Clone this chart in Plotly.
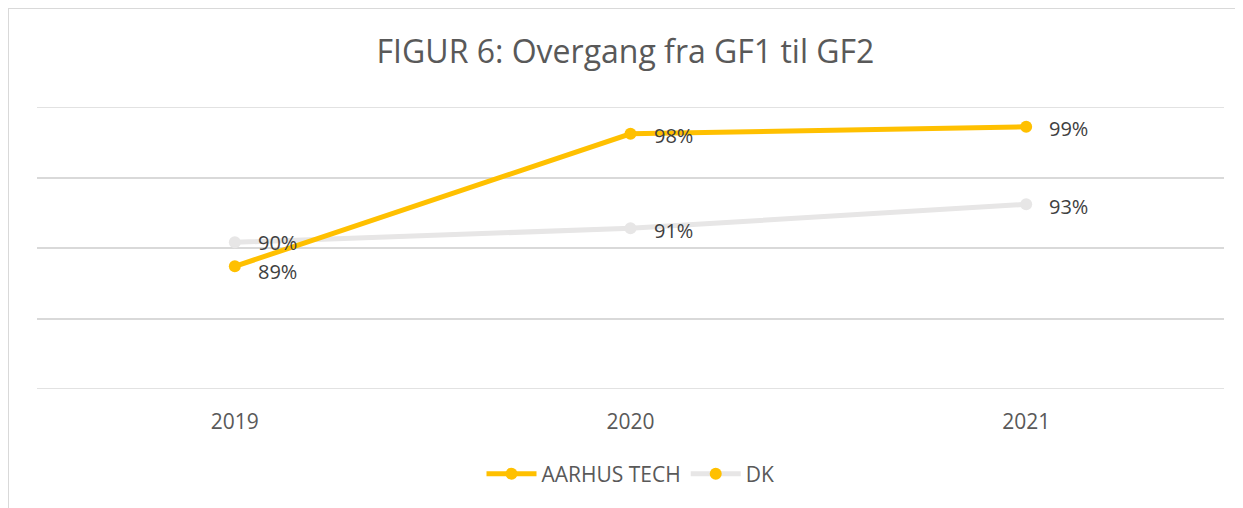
import plotly.graph_objects as go

years = ["2019", "2020", "2021"]
aarhus_tech = [88.7, 98.1, 98.6]
dk = [90.4, 91.4, 93.1]
aarhus_labels = ["89%", "98%", "99%"]
dk_labels = ["90%", "91%", "93%"]

YELLOW = "#FFC000"
GRAY = "#E7E6E6"
TEXT = "#404040"
FONT = "Open Sans"

W, H = 1235, 500
L, T, R, B = 29, 99, 19, 119
PW, PH = W - L - R, H - T - B

fig = go.Figure()

fig.add_trace(go.Scatter(x=years, y=dk, mode="lines+markers", showlegend=False,
                         line=dict(color=GRAY, width=5), marker=dict(color=GRAY, size=12),
                         hoverinfo="skip"))
fig.add_trace(go.Scatter(x=years, y=aarhus_tech, mode="lines+markers", showlegend=False,
                         line=dict(color=YELLOW, width=5), marker=dict(color=YELLOW, size=12),
                         hoverinfo="skip"))

fig.add_trace(go.Scatter(x=[None], y=[None], mode="lines+markers", name="AARHUS TECH",
                         line=dict(color=YELLOW, width=5), marker=dict(color=YELLOW, size=12)))
fig.add_trace(go.Scatter(x=[None], y=[None], mode="lines+markers", name="DK",
                         line=dict(color=GRAY, width=5), marker=dict(color=YELLOW, size=12)))

annotations = []
for series, labels, other in ((aarhus_tech, aarhus_labels, dk), (dk, dk_labels, aarhus_tech)):
    for i, (yv, lab) in enumerate(zip(series, labels)):
        # nudge apart labels of points that sit close together
        close = abs(yv - other[i]) < 3
        shift = -2
        if close:
            shift = 0 if yv > other[i] else -5
        annotations.append(dict(x=i, y=yv, xref="x", yref="y", text=lab, showarrow=False,
                                xanchor="left", yanchor="middle", xshift=21, yshift=shift,
                                font=dict(family=FONT, size=20, color=TEXT)))

shapes = [dict(type="line", xref="paper", yref="y", x0=0, x1=1, y0=v, y1=v,
               line=dict(color="#D9D9D9", width=1.5), layer="below") for v in (80, 100)]
shapes.append(dict(type="rect", xref="paper", yref="paper",
                   x0=-L / PW, x1=(W + 20 - L) / PW,
                   y0=-(B + 20) / PH, y1=(PH + T) / PH,
                   line=dict(color="#D9D9D9", width=2), fillcolor="rgba(0,0,0,0)",
                   layer="below"))

fig.update_layout(
    width=W, height=H,
    margin=dict(l=L, r=R, t=T, b=B),
    paper_bgcolor="white", plot_bgcolor="white",
    title=dict(text="FIGUR 6: Overgang fra GF1 til GF2", x=0.5, xanchor="center",
               y=1 - 44 / H, yref="container", yanchor="middle",
               font=dict(family=FONT, size=32, color="#595959")),
    xaxis=dict(type="category", range=[-0.5, 2.5], showgrid=False, showline=False,
               ticks="", zeroline=False, ticklabelstandoff=18,
               tickfont=dict(family=FONT, size=21, color="#595959")),
    yaxis=dict(range=[80, 100], dtick=5, showticklabels=False, showgrid=True,
               gridcolor="#D9D9D9", gridwidth=1.5, zeroline=False, showline=False),
    legend=dict(orientation="h", x=0.5, xanchor="center", y=(381 - 466) / PH,
                yanchor="middle", itemwidth=50,
                font=dict(family=FONT, size=21, color="#595959")),
    annotations=annotations,
    shapes=shapes,
)

fig.write_html("out.html")
